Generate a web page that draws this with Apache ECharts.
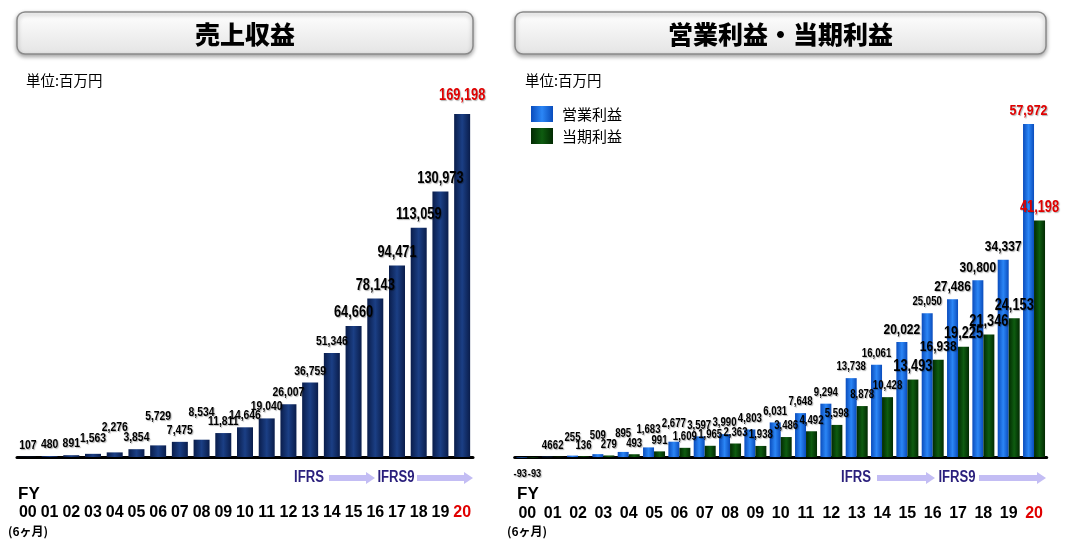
<!DOCTYPE html>
<html>
<head>
<meta charset="utf-8">
<script src="https://cdn.jsdelivr.net/npm/echarts@6/dist/echarts.min.js"></script>
<style>
html,body{margin:0;padding:0;background:#fff;}
#main{width:1065px;height:548px;}
</style>
</head>
<body>
<div id="main"></div>
<script>
const categories = ['00','01','02','03','04','05','06','07','08','09','10','11','12','13','14','15','16','17','18','19','20'];
const revenue = [107, 480, 891, 1563, 2276, 3854, 5729, 7475, 8534, 11811, 14646, 19040, 26007, 36759, 51346, 64660, 78143, 94471, 113059, 130973, 169198];
const operatingProfit = [-93, 46, 255, 509, 895, 1683, 2677, 3597, 3990, 4803, 6031, 7648, 9294, 13738, 16061, 20022, 25050, 27486, 30800, 34337, 57972];
const netProfit = [-93, 62, 136, 279, 493, 991, 1609, 1965, 2363, 1938, 3486, 4492, 5598, 8878, 10428, 13493, 16938, 19225, 21346, 24153, 41198];
const leftTitle = '売上収益';
const rightTitle = '営業利益・当期利益';
const unitText = '単位:百万円';
const seriesNames = ['営業利益', '当期利益'];

const NUM_FONT = '"Liberation Sans", Arial, sans-serif';
const JP_FONT = '"Noto Sans CJK JP", sans-serif';
const RED = '#e00000';
const LAST = categories.length - 1;

function fmt(v){ return v.toLocaleString('en-US'); }
function hGrad(edge, mid){
  return new echarts.graphic.LinearGradient(0,0,1,0,[
    {offset:0,color:edge},{offset:0.5,color:mid},{offset:1,color:edge}
  ]);
}

// value labels drawn in a condensed style through the axes' own scales
function labelSeries(axisIndex, values, shift, sizeFn, offsetFn){
  return {
    type:'custom', xAxisIndex:axisIndex, yAxisIndex:axisIndex, silent:true, z:10, clip:false,
    data: values.map((v,i)=>[i,v]),
    encode:{x:0, y:1},
    renderItem:(params, api)=>{
      const i = params.dataIndex;
      const v = api.value(1);
      const p = api.coord([i, v]);
      const neg = v < 0;
      const off = offsetFn ? offsetFn(i) : 0;
      return {
        type:'text', x:p[0] + (neg ? shift * 1.3 : shift), y: neg ? p[1] + 10 : p[1] - 5 + off, scaleX:0.8,
        style:{
          text: fmt(v), font: 'bold ' + (neg ? 11.5 : sizeFn(i)) + 'px ' + NUM_FONT,
          fill: i === LAST ? RED : '#000', textAlign:'center', textVerticalAlign: neg ? 'top' : 'bottom',
          textShadowColor:'rgba(0,0,0,0.3)', textShadowBlur:1, textShadowOffsetX:1, textShadowOffsetY:1
        }
      };
    }
  };
}

const chart = echarts.init(document.getElementById('main'), null, {renderer:'canvas'});

function xAxisFor(gridIndex, margin){
  return {
    type:'category', gridIndex, data: categories,
    axisLine:{show:true, onZero:true, lineStyle:{color:'#000', width:3}},
    axisTick:{show:false},
    axisLabel:{interval:0, margin:margin, fontSize:16, fontWeight:'bold', fontFamily:NUM_FONT,
      color:(v)=> (v === categories[LAST] ? RED : '#000')},
    splitLine:{show:false}
  };
}

function header(x, w, title){
  return [
    {type:'rect', shape:{x:x, y:12, width:w, height:42, r:8},
     style:{fill:new echarts.graphic.LinearGradient(0,0,0,1,[{offset:0,color:'#ffffff'},{offset:1,color:'#e4e4e4'}]),
            stroke:'#8a8a8a', lineWidth:1.5, shadowBlur:4, shadowOffsetY:2, shadowColor:'rgba(0,0,0,0.35)'}},
    {type:'text', x:x + w/2, y:34, style:{text:title, fill:'#000', font:'900 25px ' + JP_FONT, textAlign:'center', textVerticalAlign:'middle'}}
  ];
}
function arrow(x1, x2, y){
  const bh = 3, hh = 6, hl = 9;
  return {type:'polygon', shape:{points:[[x1,y-bh],[x2-hl,y-bh],[x2-hl,y-hh],[x2,y],[x2-hl,y+hh],[x2-hl,y+bh],[x1,y+bh]]},
          style:{fill:'#c3bdf4'}};
}
function ifrsText(x, text){
  return {type:'text', x:x, y:478, scaleX:0.82, style:{text:text, fill:'#2a1f7c', font:'bold 16px ' + NUM_FONT, textAlign:'center', textVerticalAlign:'middle'}};
}
function plainText(x, y, text, font){
  return {type:'text', x:x, y:y, style:{text:text, fill:'#000', font:font, textAlign:'left', textVerticalAlign:'middle'}};
}

const graphics = [].concat(
  header(17, 456, leftTitle),
  header(515, 531, rightTitle),
  [
    plainText(26, 80, unitText, '14.5px ' + JP_FONT),
    plainText(525, 80, unitText, '14.5px ' + JP_FONT),
    ifrsText(309, 'IFRS'), arrow(329, 375, 478), ifrsText(396, 'IFRS9'), arrow(417, 473, 478),
    ifrsText(856, 'IFRS'), arrow(877, 935, 478), ifrsText(957, 'IFRS9'), arrow(979, 1046, 478),
    plainText(18, 494, 'FY', 'bold 17px ' + NUM_FONT),
    plainText(517, 494, 'FY', 'bold 17px ' + NUM_FONT),
    plainText(8, 531, '(6ヶ月)', 'bold 12px ' + JP_FONT),
    plainText(507, 531, '(6ヶ月)', 'bold 12px ' + JP_FONT)
  ]
);

const BAR_R = 11;
const leftLift = {3:-4, 4:-13, 6:-17, 8:-16};
const option = {
  animation:false,
  backgroundColor:'#fff',
  grid:[
    {left:17, width:456, top:92.1, height:364.9, containLabel:false},
    {left:514.7, width:532, top:112.4, height:361.9, containLabel:false}
  ],
  xAxis:[xAxisFor(0, 48), xAxisFor(1, 31)],
  yAxis:[
    {type:'value', gridIndex:0, min:0, max:180000, show:false, splitLine:{show:false}},
    {type:'value', gridIndex:1, min:-3000, max:60000, show:false, splitLine:{show:false}}
  ],
  legend:{
    data: seriesNames, orient:'vertical', left:531, top:106, itemWidth:22, itemHeight:16, itemGap:6, padding:0,
    icon:'rect', selectedMode:false,
    textStyle:{fontSize:15, color:'#000', fontFamily:JP_FONT, padding:[0,0,0,4]}
  },
  series:[
    {type:'bar', name:'売上収益', xAxisIndex:0, yAxisIndex:0, barWidth:16,
     itemStyle:{color:hGrad('#0a1d4b','#1b3f85')},
     data: revenue},
    {type:'bar', name:seriesNames[0], xAxisIndex:1, yAxisIndex:1, barWidth:BAR_R, barGap:'0%',
     itemStyle:{color:hGrad('#0a4cbc','#2b86f6')},
     data: operatingProfit},
    {type:'bar', name:seriesNames[1], xAxisIndex:1, yAxisIndex:1, barWidth:BAR_R, barGap:'0%',
     itemStyle:{color:hGrad('#022a02','#0e5c10')},
     data: netProfit},
    labelSeries(0, revenue, 0, i => (i <= 14 ? 13 : 16), i => (leftLift[i] || (i === LAST ? -5 : 0))),
    labelSeries(1, operatingProfit, -BAR_R/2, i => (i === LAST ? 15.5 : (i <= 14 || i === 16 ? 12 : 15)),
      i => (i >= 2 && i <= 6 ? -7 : 0)),
    labelSeries(1, netProfit, BAR_R/2, i => (i <= 14 ? 12 : (i === 16 ? 15 : 16)))
  ],
  graphic: graphics
};
chart.setOption(option);
</script>
</body>
</html>
